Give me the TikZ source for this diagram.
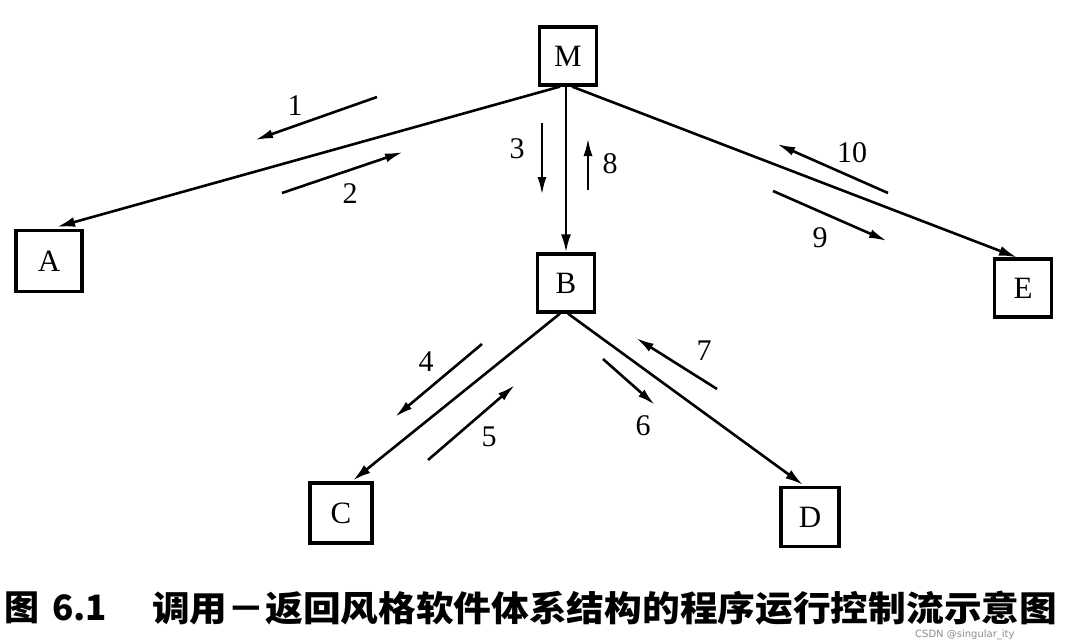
\documentclass[tikz,border=0pt]{standalone}
\usepackage{fontspec}
\usepackage{graphicx}
\setmainfont{Liberation Serif}
\newfontfamily\cjk{Noto Sans CJK SC}
\usetikzlibrary{arrows.meta}
\begin{document}
\begin{tikzpicture}[x=1pt,y=-1pt,
  box/.style={draw,line width=3.2pt,minimum width=57pt,minimum height=58pt,inner sep=0pt,font=\fontsize{31}{31}\selectfont},
  link/.style={line width=2.6pt,-{Latex[length=18pt,width=10pt]}},
  flow/.style={line width=2.6pt,-{Latex[length=18pt,width=9pt]}},
  num/.style={font=\fontsize{30}{30}\selectfont,inner sep=0pt},
  captext/.style={anchor=west,inner sep=0pt,font=\cjk\bfseries\fontsize{35}{35}\selectfont}]
\useasboundingbox[fill=white] (0,0) rectangle (1070,642);
% boxes
\node[box] (M) at (568,56) {M};
\node[box,minimum width=66pt,minimum height=61pt] (A) at (49,261) {A};
\node[box] (B) at (566,283) {B};
\node[box] (E) at (1023,288) {E};
\node[box,minimum width=62pt,minimum height=60pt] (C) at (341,513) {C};
\node[box,minimum width=58pt,minimum height=59pt] (D) at (810,517) {D};
% main connectors
\draw[link] ([xshift=-8pt]M.south) -- ([xshift=8pt,yshift=2pt]A.north);
\draw[link] ([xshift=-2pt]M.south) -- (B.north);
\draw[link] ([xshift=4pt]M.south) -- ([xshift=-6pt]E.north);
\draw[link] ([xshift=-6pt]B.south) -- ([xshift=12pt,yshift=1pt]C.north);
\draw[link] ([xshift=2pt]B.south) -- ([xshift=-7pt,yshift=1pt]D.north);
% flow arrows
\coordinate (f1s) at (377,97);  \coordinate (f1e) at (255,140);
\coordinate (f2s) at (282,193); \coordinate (f2e) at (403,152);
\coordinate (f3s) at (542,123); \coordinate (f3e) at (542,195);
\coordinate (f8s) at (588,190); \coordinate (f8e) at (588,138);
\coordinate (f10s) at (888,193); \coordinate (f10e) at (777,144);
\coordinate (f9s) at (773,191); \coordinate (f9e) at (887,241);
\coordinate (f4s) at (482,344); \coordinate (f4e) at (395,417);
\coordinate (f5s) at (428,460); \coordinate (f5e) at (515,385);
\coordinate (f6s) at (603,359); \coordinate (f6e) at (655,405);
\coordinate (f7s) at (717,389); \coordinate (f7e) at (636,338);
\foreach \a in {1,2,3,4,5,6,7,8,9,10} {\draw[flow] (f\a s) -- (f\a e);}
% labels
\node[num] (l1) at (295,106) {1};
\node[num] (l2) at (350,194) {2};
\node[num] (l3) at (517,149) {3};
\node[num] (l8) at (610,164) {8};
\node[num] (l10) at (852,153) {10};
\node[num] (l9) at (820,238) {9};
\node[num] (l4) at (426,362) {4};
\node[num] (l5) at (489,437) {5};
\node[num] (l6) at (643,426) {6};
\node[num] (l7) at (704,351) {7};
% caption
\node[captext] (cap1) at (4,608) {图};
\node[captext] (cap2) at (52,608) {6.1};
\node[captext] (cap3) at (152,608) {\resizebox{905pt}{\height}{调用－返回风格软件体系结构的程序运行控制流示意图}};
\node[anchor=west,inner sep=0pt,text=black!45,font=\fontspec{DejaVu Sans}\fontsize{10}{10}\selectfont] (wm) at (915,635) {CSDN @singular\_ity};
\end{tikzpicture}
\end{document}
